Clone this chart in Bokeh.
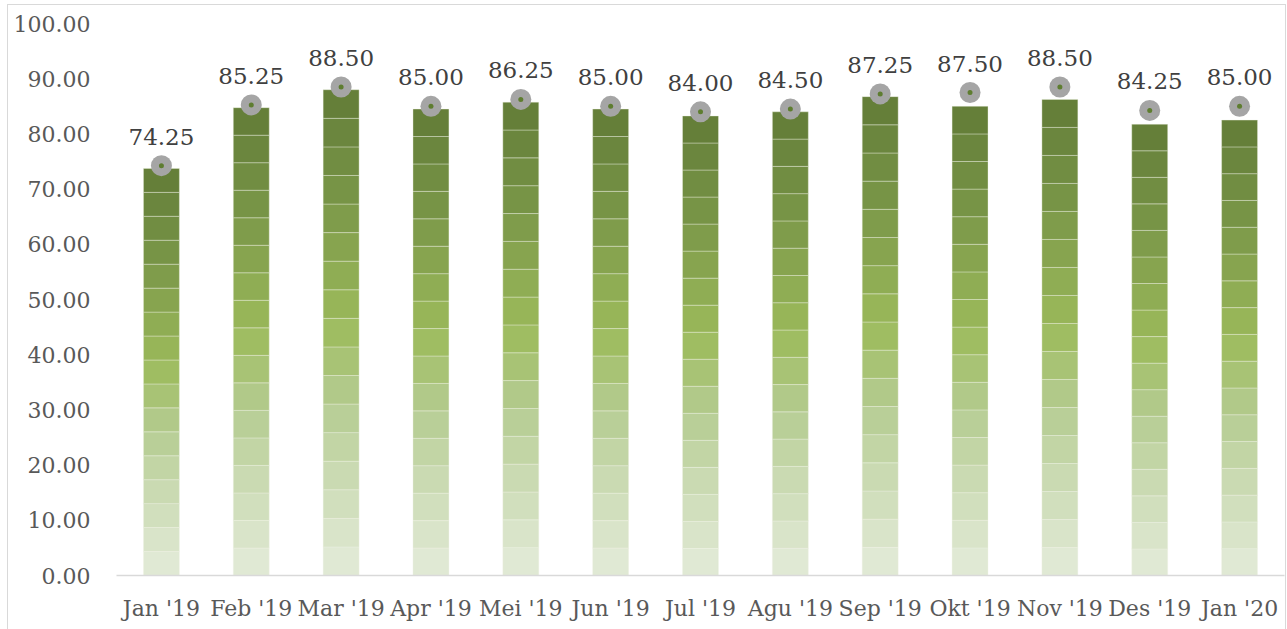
from bokeh.plotting import figure
from bokeh.models import ColumnDataSource, Range1d, FactorRange, NumeralTickFormatter, FixedTicker
from bokeh.embed import file_html
from bokeh.resources import INLINE
from bokeh.core.properties import value

months = ["Jan '19", "Feb '19", "Mar '19", "Apr '19", "Mei '19", "Jun '19", "Jul '19",
          "Agu '19", "Sep '19", "Okt '19", "Nov '19", "Des '19", "Jan '20"]
bar_values = [73.75, 84.75, 88.0, 84.5, 85.75, 84.5, 83.25, 84.0, 86.75, 85.0, 86.25, 81.75, 82.5]
point_values = [74.25, 85.25, 88.50, 85.00, 86.25, 85.00, 84.00, 84.50, 87.25, 87.50, 88.50, 84.25, 85.00]
y_ticks = [0, 10, 20, 30, 40, 50, 60, 70, 80, 90, 100]

FONT = "DejaVu Serif"

# vertical colour ramp for the bars (fraction of bar height -> colour)
ramp = [(0.0, (0xE4, 0xEC, 0xDA)), (0.22, (0xC8, 0xD9, 0xAF)), (0.36, (0xB4, 0xCB, 0x90)),
        (0.52, (0x9C, 0xBB, 0x5B)), (0.77, (0x7A, 0x97, 0x48)), (1.0, (0x62, 0x7B, 0x37))]


def ramp_color(f):
    for (f0, c0), (f1, c1) in zip(ramp[:-1], ramp[1:]):
        if f <= f1:
            t = (f - f0) / (f1 - f0)
            return "#%02x%02x%02x" % tuple(int(round(a + (b - a) * t)) for a, b in zip(c0, c1))
    return "#%02x%02x%02x" % ramp[-1][1]


N_BANDS = 17
band_x, band_bottom, band_top, band_color = [], [], [], []
for m, v in zip(months, bar_values):
    for k in range(N_BANDS):
        band_x.append(m)
        band_bottom.append(v * k / N_BANDS)
        band_top.append(v * (k + 1) / N_BANDS)
        band_color.append(ramp_color((k + 0.5) / N_BANDS))

bands = ColumnDataSource(dict(x=band_x, bottom=band_bottom, top=band_top, color=band_color))
points = ColumnDataSource(dict(x=months, y=point_values, label=["%.2f" % v for v in point_values]))

p = figure(width=1279, height=625, x_range=FactorRange(*months), y_range=Range1d(0, 100),
           output_backend="svg", toolbar_location=None,
           min_border_left=108, min_border_right=3, min_border_top=18, min_border_bottom=55)
p.styles = {"margin-left": "7px", "margin-top": "4px",
            "border-left": "1.5px solid #D9D9D9", "border-top": "1.5px solid #D9D9D9",
            "border-right": "1.5px solid #D9D9D9"}
p.outline_line_color = None
p.xgrid.grid_line_color = None
p.ygrid.grid_line_color = None
p.background_fill_color = "white"

p.vbar(x="x", bottom="bottom", top="top", width=0.4, source=bands,
       fill_color="color", line_color="#EEF3E6", line_width=0.7, line_alpha=0.55)

p.scatter(x="x", y="y", source=points, size=21, fill_color="#A5A5A5", line_color=None)
p.scatter(x="x", y="y", source=points, size=5, fill_color="#5E7D30", line_color=None)

p.text(x="x", y="y", text="label", source=points, text_align="center", text_baseline="bottom",
       y_offset=-21, text_font=value(FONT), text_font_size="23px", text_color="#404040")

p.yaxis.ticker = FixedTicker(ticks=y_ticks)
p.yaxis.formatter = NumeralTickFormatter(format="0.00")
p.yaxis.axis_line_color = None
p.yaxis.major_tick_line_color = None
p.yaxis.minor_tick_line_color = None
p.yaxis.major_label_standoff = 20
p.yaxis.major_label_text_font = FONT
p.yaxis.major_label_text_font_size = "22px"
p.yaxis.major_label_text_color = "#595959"

p.xaxis.axis_line_color = "#D9D9D9"
p.xaxis.axis_line_width = 1.5
p.xaxis.major_tick_line_color = None
p.xaxis.minor_tick_line_color = None
p.xaxis.major_label_standoff = 14
p.xaxis.major_label_text_font = FONT
p.xaxis.major_label_text_font_size = "22px"
p.xaxis.major_label_text_color = "#595959"

open("out.html", "w").write(file_html(p, INLINE))
